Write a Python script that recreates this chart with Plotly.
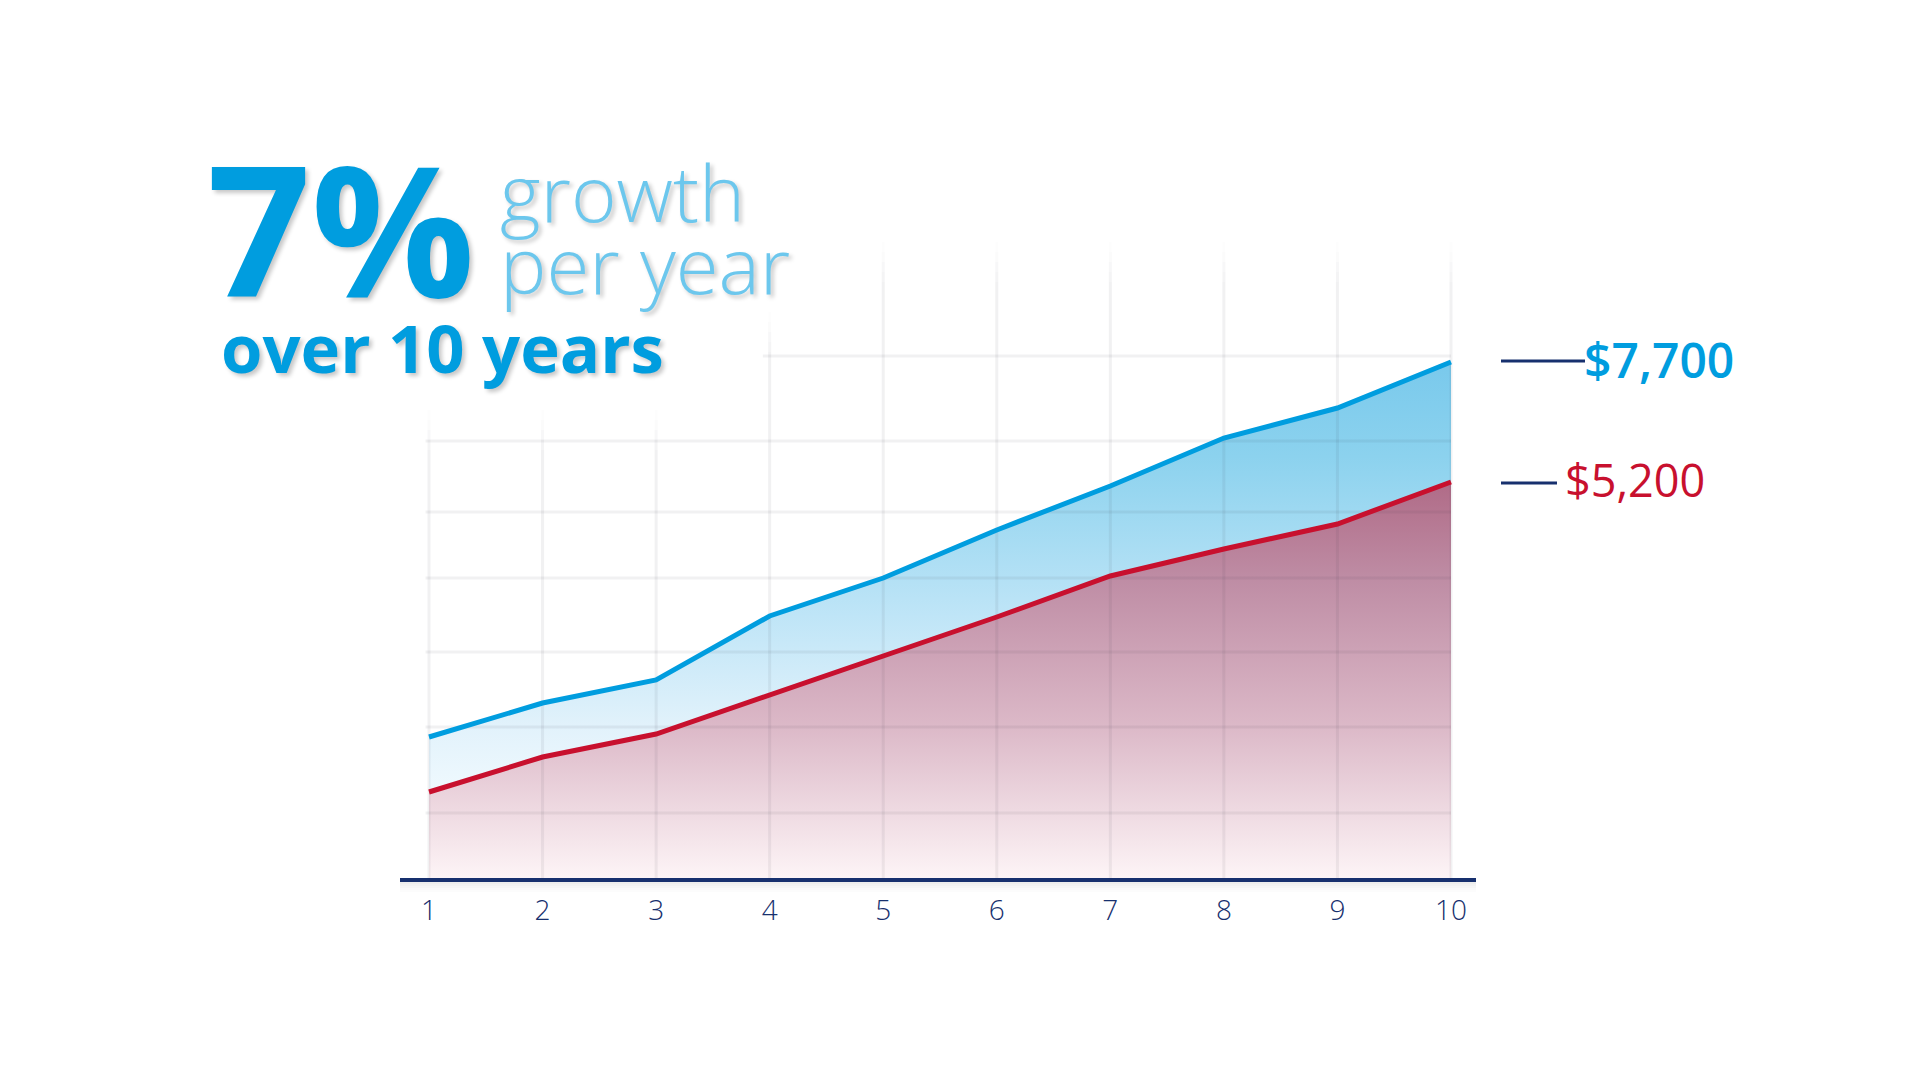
import plotly.graph_objects as go

# ---------------- data ----------------
years = [1, 2, 3, 4, 5, 6, 7, 8, 9, 10]
tick_labels = ["1", "2", "3", "4", "5", "6", "7", "8", "9", "10"]
# illustrative heights (chart units) of the two growth curves
growth_7pct = [141, 175, 198, 262, 300, 348, 392, 440, 470, 516]
growth_low = [86, 121, 144, 183, 223, 261, 302, 329, 354, 396]
end_label_high = "$7,700"
end_label_low = "$5,200"

# ---------------- layout constants ----------------
W, H = 1920, 1080
BASE_PX = 878            # pixel row of the x axis line
X_LEFT_PX, X_RIGHT_PX = 400, 1476
X1_PX, X10_PX = 429, 1451
scale = (X10_PX - X1_PX) / 9.0
x_range = [1 - (X1_PX - X_LEFT_PX) / scale, 1 + (X_RIGHT_PX - X_LEFT_PX - (X1_PX - X_LEFT_PX)) / scale]

BLUE = "#009ddf"
LIGHT_BLUE = "#6cc7ed"
RED = "#c8102e"
NAVY = "#17306e"
FONT = "Open Sans"

# gridline geometry (chart units above the axis)
h_grid = [65, 151, 226, 300, 366, 437, 522]
v_grid_tops = [468, 468, 468, 566, 636, 636, 636, 636, 636, 636]
x_start_left = 0.97
x_start_top_line = 3.94

fig = go.Figure()

# red fill (to zero)
fig.add_trace(go.Scatter(
    x=years, y=growth_low, mode="none", fill="tozeroy",
    fillgradient=dict(type="vertical", start=0, stop=max(growth_low),
                      colorscale=[[0, "#fdf4f6"], [0.38, "#dcb9c8"], [0.76, "#be8ca4"], [1, "#b06b87"]]),
    hoverinfo="skip", showlegend=False))
# blue fill (between curves)
fig.add_trace(go.Scatter(
    x=years, y=growth_7pct, mode="none", fill="tonexty",
    fillgradient=dict(type="vertical", start=min(growth_low), stop=max(growth_7pct),
                      colorscale=[[0, "#eff9fe"], [0.15, "#e2f2fb"], [0.41, "#bfe5f7"],
                                  [0.78, "#8cd2ee"], [1, "#79c9ec"]]),
    hoverinfo="skip", showlegend=False))

# gridlines (one path so crossings don't darken)
gx, gy = [], []
for xv, top in zip(years, v_grid_tops):
    gx += [xv, xv, None]
    gy += [0, top - 40, None]
for i, hv in enumerate(h_grid):
    xs = x_start_top_line if i == len(h_grid) - 1 else x_start_left
    gx += [xs, years[-1], None]
    gy += [hv, hv, None]
fig.add_trace(go.Scatter(x=gx, y=gy, mode="lines",
                         line=dict(color="rgba(40,40,60,0.065)", width=3),
                         hoverinfo="skip", showlegend=False))
# fading tops of vertical gridlines
for k, alpha in enumerate([0.05, 0.035, 0.02, 0.008]):
    fx, fy = [], []
    for xv, top in zip(years, v_grid_tops):
        fx += [xv, xv, None]
        fy += [top - 40 + k * 10, top - 40 + (k + 1) * 10, None]
    fig.add_trace(go.Scatter(x=fx, y=fy, mode="lines",
                             line=dict(color=f"rgba(40,40,60,{alpha})", width=3),
                             hoverinfo="skip", showlegend=False))

# curves
fig.add_trace(go.Scatter(x=years, y=growth_low, mode="lines",
                         line=dict(color=RED, width=5), hoverinfo="skip", showlegend=False))
fig.add_trace(go.Scatter(x=years, y=growth_7pct, mode="lines",
                         line=dict(color=BLUE, width=5), hoverinfo="skip", showlegend=False))

shapes = []
# soft shadow under the axis line
for i, a in enumerate([0.10, 0.07, 0.05, 0.035, 0.02, 0.01]):
    yp = BASE_PX + 3 + i * 2
    shapes.append(dict(type="line", xref="paper", yref="paper",
                       x0=X_LEFT_PX / W, x1=X_RIGHT_PX / W, y0=1 - yp / H, y1=1 - yp / H,
                       line=dict(color=f"rgba(0,0,0,{a})", width=2), layer="below"))
# leader lines for the end labels
for y_px, x_end in [(361, 1585), (483, 1557)]:
    shapes.append(dict(type="line", xref="paper", yref="paper",
                       x0=1501 / W, x1=x_end / W, y0=1 - y_px / H, y1=1 - y_px / H,
                       line=dict(color=NAVY, width=3)))

shadow = "3px 3px 4px rgba(0,0,0,0.22)"
def ann(text, x_px, y_px, size, color, weight, sh=shadow):
    return dict(text=text, xref="paper", yref="paper", x=x_px / W, y=1 - y_px / H,
                xanchor="left", yanchor="middle", showarrow=False,
                font=dict(family=FONT, size=size, color=color, weight=weight, shadow=sh))

annotations = [
    ann("7%", 205, 226, 182, BLUE, 700),
    ann("growth", 498, 192, 78, LIGHT_BLUE, 300),
    ann("per year", 498, 264, 78, LIGHT_BLUE, 300),
    ann("over 10 years", 219, 347, 67, BLUE, 700),
    ann(end_label_high, 1582, 359, 48, BLUE, 600, "none"),
    ann(end_label_low, 1563, 479, 45, RED, 400, "none"),
]

fig.update_layout(
    width=W, height=H, autosize=False,
    margin=dict(l=0, r=0, t=0, b=0),
    paper_bgcolor="white", plot_bgcolor="rgba(0,0,0,0)",
    shapes=shapes, annotations=annotations, showlegend=False,
    xaxis=dict(domain=[X_LEFT_PX / W, X_RIGHT_PX / W], range=x_range,
               showgrid=False, zeroline=False, showline=True, linecolor=NAVY, linewidth=4,
               tickmode="array", tickvals=years, ticktext=tick_labels,
               ticks="", ticklabelstandoff=4,
               tickfont=dict(family=FONT, size=28, color=NAVY, weight=300), fixedrange=True),
    yaxis=dict(domain=[1 - BASE_PX / H, 1], range=[0, BASE_PX],
               visible=False, fixedrange=True),
)

fig.write_html("out.html", config={"displayModeBar": False})
